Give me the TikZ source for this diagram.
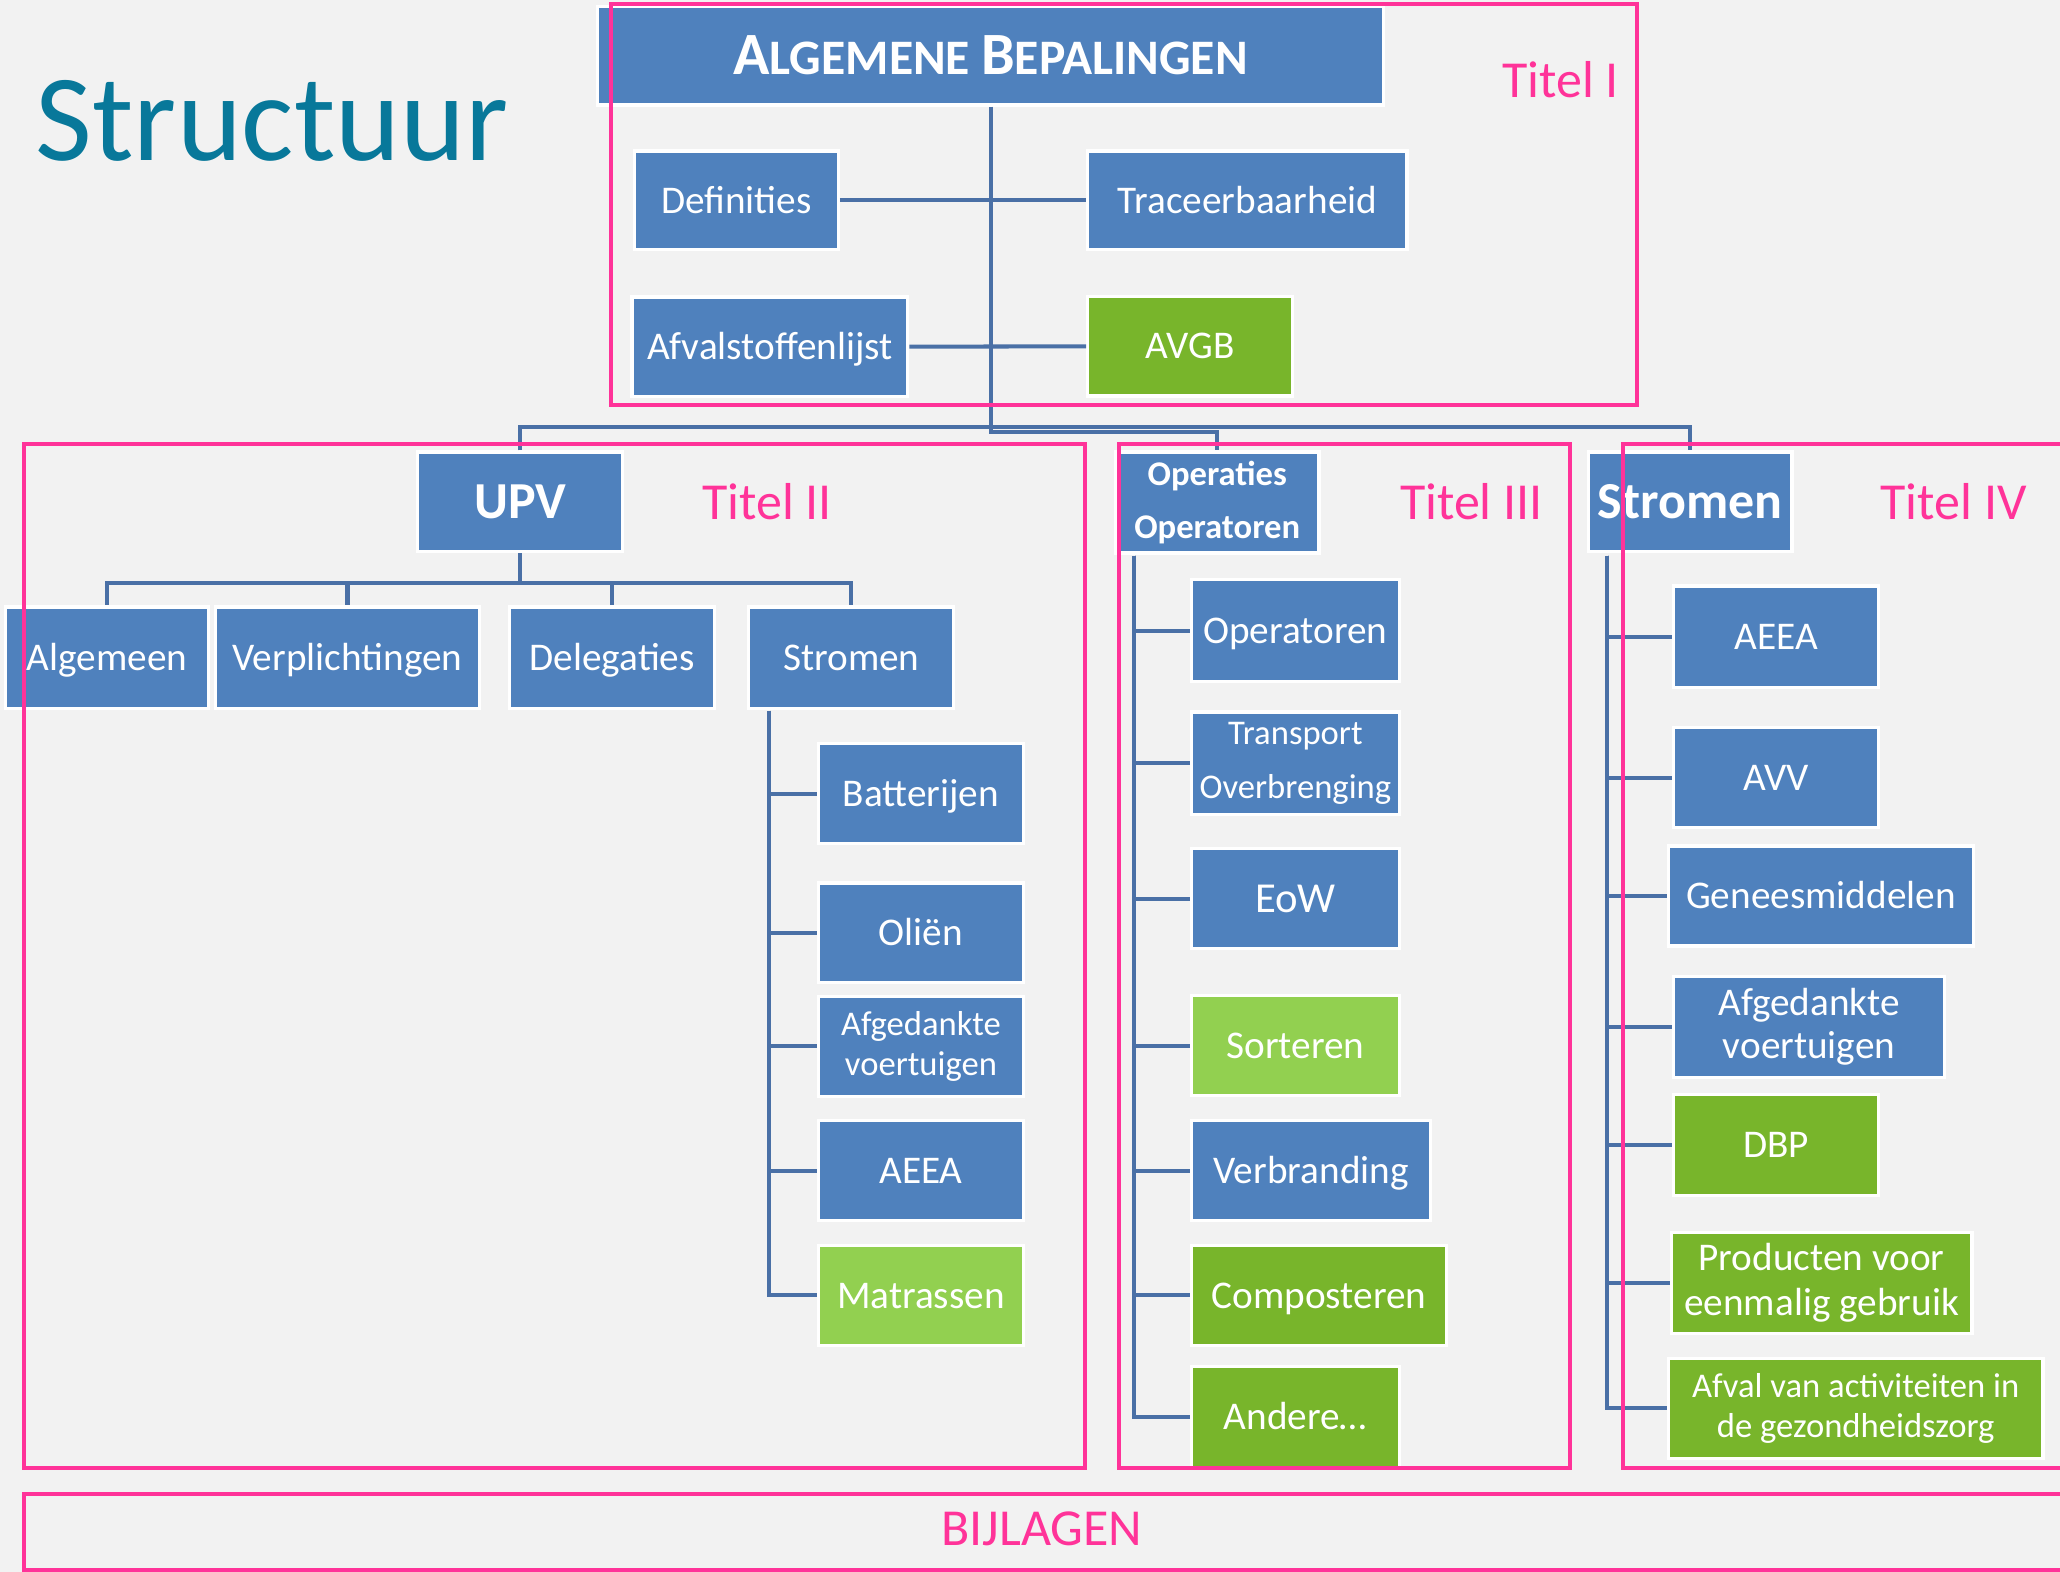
\documentclass[tikz,border=0pt]{standalone}
\usepackage{fontspec}
\setmainfont{Carlito}
\usepackage{tikz}
\usetikzlibrary{calc,positioning,arrows,shapes,fit}

\definecolor{blauw}{HTML}{4F81BD}
\definecolor{groen}{HTML}{78B52B}
\definecolor{lichtgroen}{HTML}{92D050}
\definecolor{roze}{HTML}{FF3399}
\definecolor{petrol}{HTML}{08789A}
\definecolor{lijnkleur}{HTML}{4A70A6}
\definecolor{achtergrond}{HTML}{F2F2F2}

\tikzset{
    >=stealth',
    blok/.style={
        rectangle,
        fill=blauw,
        draw=white, line width=1.4pt,
        text=white,
        font=\fontsize{17}{20}\selectfont,
        align=center,
        inner sep=0pt,
        text height=11pt,
        text depth=0pt,
        minimum width=3.12cm,
        minimum height=1.52cm
    },
    groen blok/.style={blok, fill=groen},
    lichtgroen blok/.style={blok, fill=lichtgroen},
    kop/.style={
        blok,
        font=\bfseries\fontsize{22.5}{27}\selectfont,
        text height=14.5pt
    },
    twee regels/.style={text height=, text depth=},
    lijn/.style={draw=lijnkleur, line width=1.75pt},
    kader/.style={draw=roze, line width=1.75pt},
    titel/.style={text=roze, font=\fontsize{22.5}{27}\selectfont, inner sep=0pt}
}

\begin{document}
\begin{tikzpicture}[x=0.02cm, y=-0.02cm]
    \fill[achtergrond] (0,0) rectangle (1568,1196.5);
    \useasboundingbox (0,0) rectangle (1568,1196.5);

    \node[anchor=base west, inner sep=0pt, text=petrol,
          font=\fontsize{53.5}{60}\selectfont] (structuur) at (27,122) {Structuur};

    % Titel I
    \node[blok, minimum width=11.96cm, minimum height=1.5cm, text height=16.5pt,
          font=\bfseries\fontsize{21.5}{25}\selectfont] (abg) at (754,42.5)
          {{\fontsize{26}{30}\selectfont A}LGEMENE {\fontsize{26}{30}\selectfont B}EPALINGEN};
    \node[blok, minimum width=3.1cm, minimum height=1.5cm] (definities) at (560.5,152.5) {Definities};
    \node[blok, minimum width=4.86cm, minimum height=1.5cm] (traceer) at (949.5,152.5) {Traceerbaarheid};
    \node[blok, minimum width=4.2cm] (afvallijst) at (586,264) {Afvalstoffenlijst};
    \node[groen blok] (avgb) at (906,263.5) {AVGB};

    % Titel II
    \node[kop] (upv) at (396,382) {UPV};
    \node[blok, minimum width=3.1cm, minimum height=1.54cm] (algemeen) at (81.5,500.5) {Algemeen};
    \node[blok, minimum width=4.02cm, minimum height=1.54cm] (verplicht) at (264.5,500.5) {Verplichtingen};
    \node[blok, minimum height=1.54cm] (delegaties) at (466,500.5) {Delegaties};
    \node[blok, minimum height=1.54cm] (stromenII) at (648,500.5) {Stromen};
    \node[blok] (batterijen) at (701,604) {Batterijen};
    \node[blok] (olien) at (701,710) {Oliën};
    \node[blok, twee regels, font=\fontsize{15}{17}\selectfont] (afgedankteII) at (701,796.5) {Afgedankte\\voertuigen};
    \node[blok] (aeeaII) at (701,891) {AEEA};
    \node[lichtgroen blok] (matrassen) at (701,986) {Matrassen};

    % Titel III
    \node[blok, twee regels, minimum width=3.1cm, minimum height=1.54cm,
          font=\bfseries\fontsize{15}{23}\selectfont] (opop) at (926.5,382.5) {Operaties\\Operatoren};
    \node[blok, minimum width=3.16cm, minimum height=1.56cm] (operatoren) at (986,480) {Operatoren};
    \node[blok, twee regels, minimum width=3.16cm, minimum height=1.56cm,
          font=\fontsize{15}{23}\selectfont] (transport) at (986,581) {Transport\\Overbrenging};
    \node[blok, minimum width=3.16cm, font=\fontsize{18.5}{22}\selectfont, text height=11.9pt] (eow) at (986,684) {EoW};
    \node[lichtgroen blok, minimum width=3.16cm] (sorteren) at (986,796) {Sorteren};
    \node[blok, minimum width=3.64cm] (verbranding) at (998,891) {Verbranding};
    \node[groen blok, minimum width=3.88cm] (composteren) at (1004,986) {Composteren};
    \node[groen blok, minimum width=3.16cm, minimum height=1.54cm] (andere) at (986,1078.5) {Andere…};

    % Titel IV
    \node[kop, minimum width=3.1cm] (stromenIV) at (1286.5,382) {Stromen};
    \node[blok, minimum height=1.54cm] (aeeaIV) at (1352,484.5) {AEEA};
    \node[blok] (avv) at (1352,592) {AVV};
    \node[blok, minimum width=4.64cm] (genees) at (1386,682) {Geneesmiddelen};
    \node[blok, twee regels, minimum width=4.12cm, minimum height=1.54cm,
          font=\fontsize{17}{19}\selectfont] (afgedankteIV) at (1377,781.5) {Afgedankte\\voertuigen};
    \node[groen blok, minimum height=1.54cm] (dbp) at (1352,871.5) {DBP};
    \node[groen blok, twee regels, minimum width=4.58cm, minimum height=1.54cm,
          font=\fontsize{17}{19.5}\selectfont] (producten) at (1386.5,976.5) {Producten voor\\eenmalig gebruik};
    \node[groen blok, twee regels, minimum width=5.7cm,
          font=\fontsize{15}{17}\selectfont] (zorg) at (1412.5,1072) {Afval van activiteiten in\\de gezondheidszorg};

    % verbindingen
    \coordinate (stam) at (754,325);
    \coordinate (knik) at (754,329);
    \coordinate (upvknoop) at (396,444);
    \coordinate (s2top) at (585,541);
    \coordinate (optop) at (863,423);
    \coordinate (sttop) at (1223,423);

    \draw[lijn] (abg.south) -- (knik) -| (opop.north);
    \draw[lijn] (upv.north) |- (stam) -| (stromenIV.north);
    \draw[lijn] (definities) -- (traceer);
    \draw[lijn] (afvallijst) -- (avgb);
    \draw[lijn] (upv.south) -- (upvknoop);
    \foreach \k in {algemeen,verplicht,delegaties,stromenII}
        \draw[lijn] (upvknoop) -| (\k.north);
    \foreach \k in {batterijen,olien,afgedankteII,aeeaII,matrassen}
        \draw[lijn] (s2top) |- (\k.west);
    \foreach \k in {operatoren,transport,eow,sorteren,verbranding,composteren,andere}
        \draw[lijn] (optop) |- (\k.west);
    \foreach \k in {aeeaIV,avv,genees,afgedankteIV,dbp,producten,zorg}
        \draw[lijn] (sttop) |- (\k.west);

    % kaders
    \draw[kader] (465,3) rectangle (1246,308);
    \draw[kader] (18,338) rectangle (826,1117);
    \draw[kader] (852,338) rectangle (1195,1117);
    \draw[kader] (1580,338) -- (1235,338) -- (1235,1117) -- (1580,1117);
    \draw[kader] (1580,1137) -- (18,1137) -- (18,1195) -- (1580,1195);

    \node[titel] (titelI) at (1188,61) {Titel I};
    \node[titel] (titelII) at (584,382) {Titel II};
    \node[titel] (titelIII) at (1120,382) {Titel III};
    \node[titel] (titelIV) at (1487,382) {Titel IV};
    \node[titel] (bijlagen) at (793,1164) {BIJLAGEN};
\end{tikzpicture}
\end{document}
